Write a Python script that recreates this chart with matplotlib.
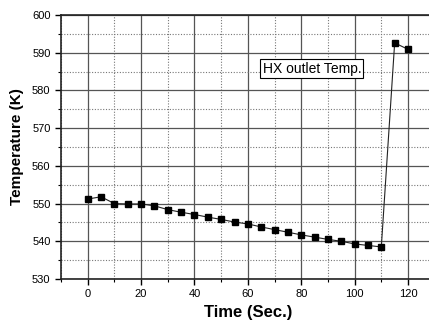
import matplotlib
matplotlib.use("Agg")
import matplotlib.pyplot as plt
from matplotlib.ticker import MultipleLocator

time_s = [0, 5, 10, 15, 20, 25, 30, 35, 40, 45, 50, 55, 60, 65, 70, 75, 80, 85,
          90, 95, 100, 105, 110, 115, 120]
temp_k = [551.2, 551.8, 550.0, 549.9, 549.9, 549.4, 548.4, 547.7, 547.1, 546.4,
          545.8, 545.1, 544.6, 543.8, 543.1, 542.4, 541.7, 541.1, 540.5, 540.0,
          539.3, 538.9, 538.5, 592.6, 590.9]
x_ticks = [0, 20, 40, 60, 80, 100, 120]
y_ticks = [530, 540, 550, 560, 570, 580, 590, 600]
label_text = "HX outlet Temp."

plt.rcParams['font.family'] = ['Liberation Sans', 'DejaVu Sans']

fig = plt.figure(figsize=(4.29, 3.23), dpi=100)
ax = fig.add_axes([61/429, 44/323, (434.7-61)/429, 264/323])

ax.plot(time_s, temp_k, color='#222222', lw=0.8, marker='s', ms=5,
        mfc='black', mec='black', zorder=3)

ax.set_xlim(-10, 130)
ax.set_ylim(530, 600)
ax.set_xticks(x_ticks)
ax.set_yticks(y_ticks)
ax.xaxis.set_minor_locator(MultipleLocator(10))
ax.yaxis.set_minor_locator(MultipleLocator(5))

ax.grid(which='major', color='#555555', lw=0.9, ls='-')
ax.grid(which='minor', color='#777777', lw=0.8, ls=(0, (1, 1.5)))
ax.set_axisbelow(True)

ax.tick_params(which='major', direction='out', length=4, width=1, labelsize=8, colors='black')
ax.tick_params(which='minor', direction='out', length=2, width=0.8)
for s in ax.spines.values():
    s.set_linewidth(1.2)
    s.set_color('#222222')

ax.set_xlabel('Time (Sec.)', fontsize=12, fontweight='bold', labelpad=4)
ax.set_ylabel('Temperature (K)', fontsize=11, fontweight='bold', labelpad=6)

ax.text(65.5, 585.8, label_text, fontsize=10, ha='left', va='center',
        bbox=dict(boxstyle='square,pad=0.15', fc='white', ec='black', lw=0.8))

fig.savefig('out.png', dpi=100)
